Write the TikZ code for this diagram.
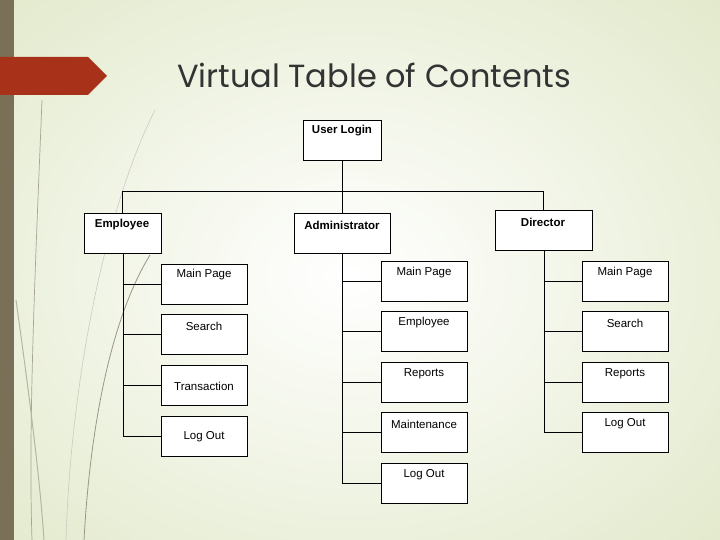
\documentclass[tikz,border=0pt]{standalone}
\usepackage{fontspec}
\setmainfont{Liberation Sans}
\newfontfamily\titlefont{Poppins}
\definecolor{bgout}{RGB}{224,232,200}
\definecolor{strip}{RGB}{122,112,88}
\definecolor{redarrow}{RGB}{167,50,25}
\definecolor{grass}{RGB}{110,105,75}
\begin{document}
\begin{tikzpicture}[x=1pt,y=-1pt,
  box/.style={draw=black,fill=white,line width=0.8pt,minimum width=#1,minimum height=40pt,inner sep=0pt,anchor=north west},
  box/.default=86pt,
  lbl/.style={font=\fontsize{11.5}{13}\selectfont},
  blbl/.style={font=\fontsize{11.5}{13}\selectfont\bfseries},
  conn/.style={draw=black,line width=0.8pt}]
\useasboundingbox (0,0) rectangle (720,540);
\shade[inner color=white,outer color=bgout] (-200,-150) rectangle (900,700);
\fill[strip] (0,0) rectangle (14,540);
\fill[redarrow] (0,57) -- (88,57) -- (107,76) -- (88,95) -- (0,95) -- cycle;
% grass
\draw[grass!60,line width=0.7pt] (42,100) .. controls (36,250) and (28,420) .. (32,540);
\draw[grass!50,line width=1pt] (16,300) .. controls (30,400) and (40,480) .. (44,540);
\draw[grass!35,line width=0.6pt] (155,110) .. controls (100,220) and (70,400) .. (66,540);
\draw[grass!70,line width=0.8pt] (150,255) .. controls (110,320) and (90,430) .. (84,540);
\node[font=\titlefont\fontsize{32}{36}\selectfont,text=black!80] (title) at (374,75) {Virtual Table of Contents};
% top
\node[box=78pt] (ul) at (303,120) {}; \node[blbl] (ult) at (342,131) {User Login};
\node[box=77pt] (emp) at (84,213) {}; \node[blbl] (empt) at (122,225) {Employee};
\node[box=96pt] (adm) at (294,213) {}; \node[blbl] (admt) at (342,225) {Administrator};
\node[box=97pt] (dir) at (495,210) {}; \node[blbl] (dirt) at (543,222) {Director};
\coordinate (bl) at (122,191); \coordinate (br) at (543,191); \coordinate (bm) at (342,191);
\draw[conn] (ul.south -| bm) -- (adm.north -| bm);
\draw[conn] (emp.north -| bl) -- (bl) -- (br) -- (dir.north -| br);
% employee children
\foreach \n/\y/\o/\t in {e1/264/11/Main Page,e2/314/12/Search,e3/365/21/Transaction,e4/416/21/Log Out}{
  \node[box] (\n) at (161,\y) {};
  \node[lbl] (\n t) at (204,\y+\o) {\t};
}
% admin children
\foreach \n/\y/\t in {a1/261/Main Page,a2/311/Employee,a3/362/Reports,a4/412/Maintenance,a5/463/Log Out}{
  \node[box] (\n) at (381,\y) {};
  \node[lbl] (\n t) at (424,\y+12) {\t};
}
% director children
\foreach \n/\y/\t in {d1/261/Main Page,d2/311/Search,d3/362/Reports,d4/412/Log Out}{
  \node[box] (\n) at (582,\y) {};
  \node[lbl] (\n t) at (625,\y+12) {\t};
}
\draw[conn] (adm.south) -- (adm.south |- a5.west) -- (a5.west);
\foreach \n in {a1,a2,a3,a4}{ \draw[conn] (adm.south |- \n.west) -- (\n.west); }
\draw[conn] (dir.south) -- (dir.south |- d4.west) -- (d4.west);
\foreach \n in {d1,d2,d3}{ \draw[conn] (dir.south |- \n.west) -- (\n.west); }
\draw[conn] (emp.south) -- (emp.south |- e4.west) -- (e4.west);
\foreach \n in {e1,e2,e3}{ \draw[conn] (emp.south |- \n.west) -- (\n.west); }
\end{tikzpicture}
\end{document}
